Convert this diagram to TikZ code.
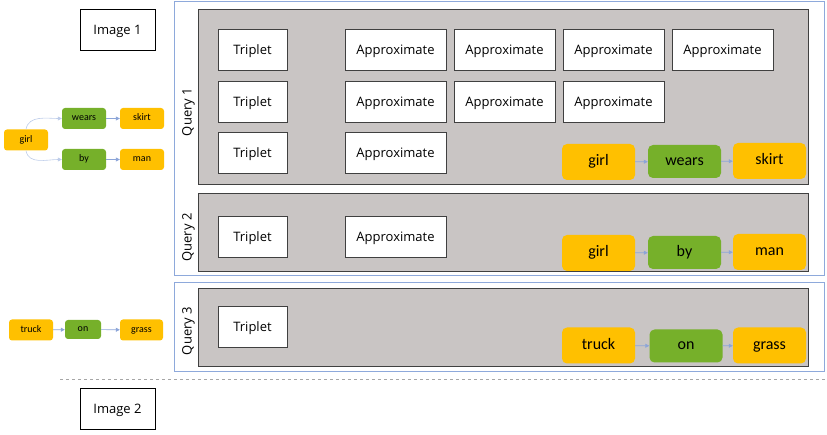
\documentclass[tikz,border=0pt]{standalone}
\usepackage{fontspec}
\setmainfont{Open Sans}
\newfontfamily\calib{Carlito}
\usetikzlibrary{arrows.meta}
\definecolor{panelgray}{HTML}{C9C5C4}
\definecolor{panelline}{HTML}{404040}
\definecolor{frameblue}{HTML}{8EA9DB}
\definecolor{nodeorange}{HTML}{FFC000}
\definecolor{nodegreen}{HTML}{76B02A}
\definecolor{arrowblue}{HTML}{5B7FC7}
\tikzset{
  boxtext/.style={font=\fontsize{13}{15}\selectfont, text height=9.3pt, text depth=0pt, inner sep=0pt},
  imgbox/.style={boxtext, draw=black, line width=0.8pt, fill=white, minimum width=75pt, minimum height=41pt},
  frame/.style={draw=frameblue, line width=1pt, fill=white},
  panel/.style={draw=panelline, line width=1pt, fill=panelgray},
  tripbox/.style={boxtext, draw=panelline, line width=0.8pt, fill=white, minimum width=69pt, minimum height=41pt},
  approxbox/.style={boxtext, draw=panelline, line width=0.8pt, fill=white, minimum width=101pt, minimum height=41pt},
  qlabel/.style={boxtext, rotate=90},
  colortext/.style={font=\calib\fontsize{16}{18}\selectfont, text height=8pt, text depth=0pt, inner sep=0pt},
  bigobj/.style={colortext, fill=nodeorange, rounded corners=5pt, minimum width=73pt, minimum height=36pt},
  bigrel/.style={colortext, fill=nodegreen, rounded corners=5pt, minimum width=73pt, minimum height=33pt},
  smalltext/.style={font=\calib\fontsize{10}{12}\selectfont, text height=5pt, text depth=0pt, inner sep=0pt},
  smallobj/.style={smalltext, fill=nodeorange, rounded corners=3pt, minimum width=44pt, minimum height=21pt},
  smallrel/.style={smalltext, fill=nodegreen, rounded corners=3pt, minimum width=44pt, minimum height=21pt},
  link/.style={draw=arrowblue!70, line width=0.6pt, -{Triangle[length=4pt,width=4pt]}},
}
\begin{document}
\begin{tikzpicture}[x=1pt,y=-1pt]
\useasboundingbox (0,0) rectangle (827,435);

% image placeholders
\node[imgbox] (img1) at (117.5,30) {Image 1};
\node[imgbox] (img2) at (117.5,409) {Image 2};

% separator between the two images
\draw[dashed, draw=gray!70, line width=0.8pt] (60,379) -- (827,379);

% outer frames
\draw[frame] (174,2) rectangle (824,276);
\draw[frame] (174,283) rectangle (824,372);

% query panels
\draw[panel] (198,10) rectangle (808,185);
\draw[panel] (198,194) rectangle (808,272);
\draw[panel] (198,289) rectangle (808,367);

\node[qlabel] (q1) at (187,112) {Query 1};
\node[qlabel] (q2) at (187,237.5) {Query 2};
\node[qlabel] (q3) at (187,331) {Query 3};

% Query 1 grid
\node[tripbox] (t11) at (252.5,49.5) {Triplet};
\node[tripbox] (t12) at (252.5,101.5) {Triplet};
\node[tripbox] (t13) at (252.5,152.5) {Triplet};
\node[approxbox] (a11) at (395.5,49.5) {Approximate};
\node[approxbox] (a12) at (504.5,49.5) {Approximate};
\node[approxbox] (a13) at (613.5,49.5) {Approximate};
\node[approxbox] (a14) at (722.5,49.5) {Approximate};
\node[approxbox] (a21) at (395.5,101.5) {Approximate};
\node[approxbox] (a22) at (504.5,101.5) {Approximate};
\node[approxbox] (a23) at (613.5,101.5) {Approximate};
\node[approxbox] (a31) at (395.5,152.5) {Approximate};

% Query 2 grid
\node[tripbox] (t21) at (252.5,236.5) {Triplet};
\node[approxbox] (b11) at (395.5,236.5) {Approximate};

% Query 3 grid
\node[tripbox] (t31) at (252.5,326.5) {Triplet};

% query triplets
\node[bigobj] (g1) at (598.5,162) {girl};
\node[bigrel] (w1) at (684.5,161.5) {wears};
\node[bigobj] (s1) at (769.5,161) {skirt};
\draw[link] (g1) -- (w1);
\draw[link] (w1) -- (s1);

\node[bigobj] (g2) at (598.5,253) {girl};
\node[bigrel] (b2) at (684.5,252.5) {by};
\node[bigobj] (m2) at (769.5,252) {man};
\draw[link] (g2) -- (b2);
\draw[link] (b2) -- (m2);

\node[bigobj] (tr3) at (598.5,345.5) {truck};
\node[bigrel] (o3) at (686,346) {on};
\node[bigobj] (gr3) at (769.5,345.5) {grass};
\draw[link] (tr3) -- (o3);
\draw[link] (o3) -- (gr3);

% scene graph of image 1
\node[smallobj] (sg) at (26,140) {girl};
\node[smallrel] (sw) at (84,118.5) {wears};
\node[smallobj] (ss) at (142,118.5) {skirt};
\node[smallrel] (sb) at (84,159.5) {by};
\node[smallobj] (sm) at (142,159.5) {man};
\draw[link, draw=arrowblue!40] (sg.north) to[out=80, in=180] (sw.west);
\draw[link, draw=arrowblue!40] (sg.south) to[out=-80, in=180] (sb.west);
\draw[link] (sw) -- (ss);
\draw[link] (sb) -- (sm);

% scene graph of image 2
\node[smallobj] (st) at (31,330) {truck};
\node[smallrel, minimum width=36pt, minimum height=19pt] (so) at (83,329.5) {on};
\node[smallobj, minimum width=43pt] (sgr) at (141.5,330) {grass};
\draw[link] (st) -- (so);
\draw[link] (so) -- (sgr);
\end{tikzpicture}
\end{document}
